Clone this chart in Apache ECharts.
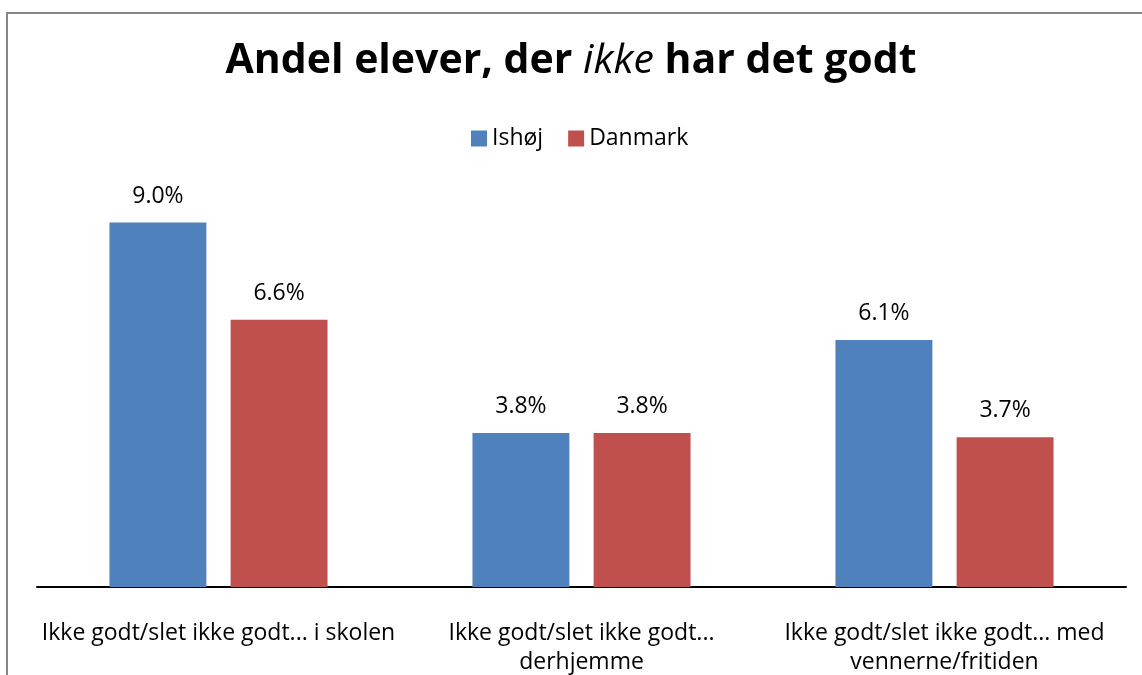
<!DOCTYPE html>
<html>
<head>
<meta charset="utf-8">
<script src="https://cdn.jsdelivr.net/npm/echarts@6/dist/echarts.min.js"></script>
<style>
html, body { margin: 0; padding: 0; background: #fff; }
#chart { width: 1142px; height: 675px; }
</style>
</head>
<body>
<div id="chart"></div>
<script>
// data
const categories = [
    "Ikke godt/slet ikke godt... i skolen",
    "Ikke godt/slet ikke godt...\nderhjemme",
    "Ikke godt/slet ikke godt... med\nvennerne/fritiden"
];
const ishoj = [9.0, 3.8, 6.1];
const danmark = [6.6, 3.8, 3.7];

const font = "Open Sans";

const chart = echarts.init(document.getElementById("chart"));

const labelStyle = {
    show: true,
    position: "top",
    distance: 15,
    fontFamily: font,
    fontSize: 23,
    color: "#000",
    formatter: p => p.value.toFixed(1) + "%"
};

chart.setOption({
    animation: false,
    title: {
        text: "{b|Andel elever, der }{i|ikke}{b| har det godt}",
        left: "center",
        top: 36,
        textStyle: {
            rich: {
                b: { fontFamily: font, fontSize: 41, fontWeight: "bold", color: "#000" },
                i: { fontFamily: font, fontSize: 41, fontWeight: "normal", fontStyle: "italic", color: "#000" }
            }
        }
    },
    legend: {
        top: 122,
        left: 466,
        itemWidth: 16,
        itemHeight: 16,
        itemGap: 25,
        icon: "rect",
        textStyle: { fontFamily: font, fontSize: 23, color: "#000" }
    },
    graphic: [{
        type: "rect",
        shape: { x: 7, y: 13, width: 1200, height: 700 },
        style: { fill: "none", stroke: "#868686", lineWidth: 2 },
        silent: true
    }],
    grid: { left: 37, right: 16, top: 182, bottom: 88, outerBoundsMode: "none", containLabel: false },
    xAxis: {
        type: "category",
        data: categories,
        axisLine: { lineStyle: { color: "#000", width: 2 } },
        axisTick: { show: false },
        axisLabel: {
            interval: 0,
            margin: 32,
            fontFamily: font,
            fontSize: 23,
            lineHeight: 29,
            color: "#000"
        }
    },
    yAxis: {
        type: "value",
        min: 0,
        max: 10,
        show: false,
        splitLine: { show: false }
    },
    series: [
        {
            name: "Ishøj",
            type: "bar",
            data: ishoj,
            barWidth: "26.7%",
            barGap: "25%",
            itemStyle: { color: "#4f81bd" },
            label: labelStyle
        },
        {
            name: "Danmark",
            type: "bar",
            data: danmark,
            barWidth: "26.7%",
            itemStyle: { color: "#c0504d" },
            label: labelStyle
        }
    ]
});
</script>
</body>
</html>
